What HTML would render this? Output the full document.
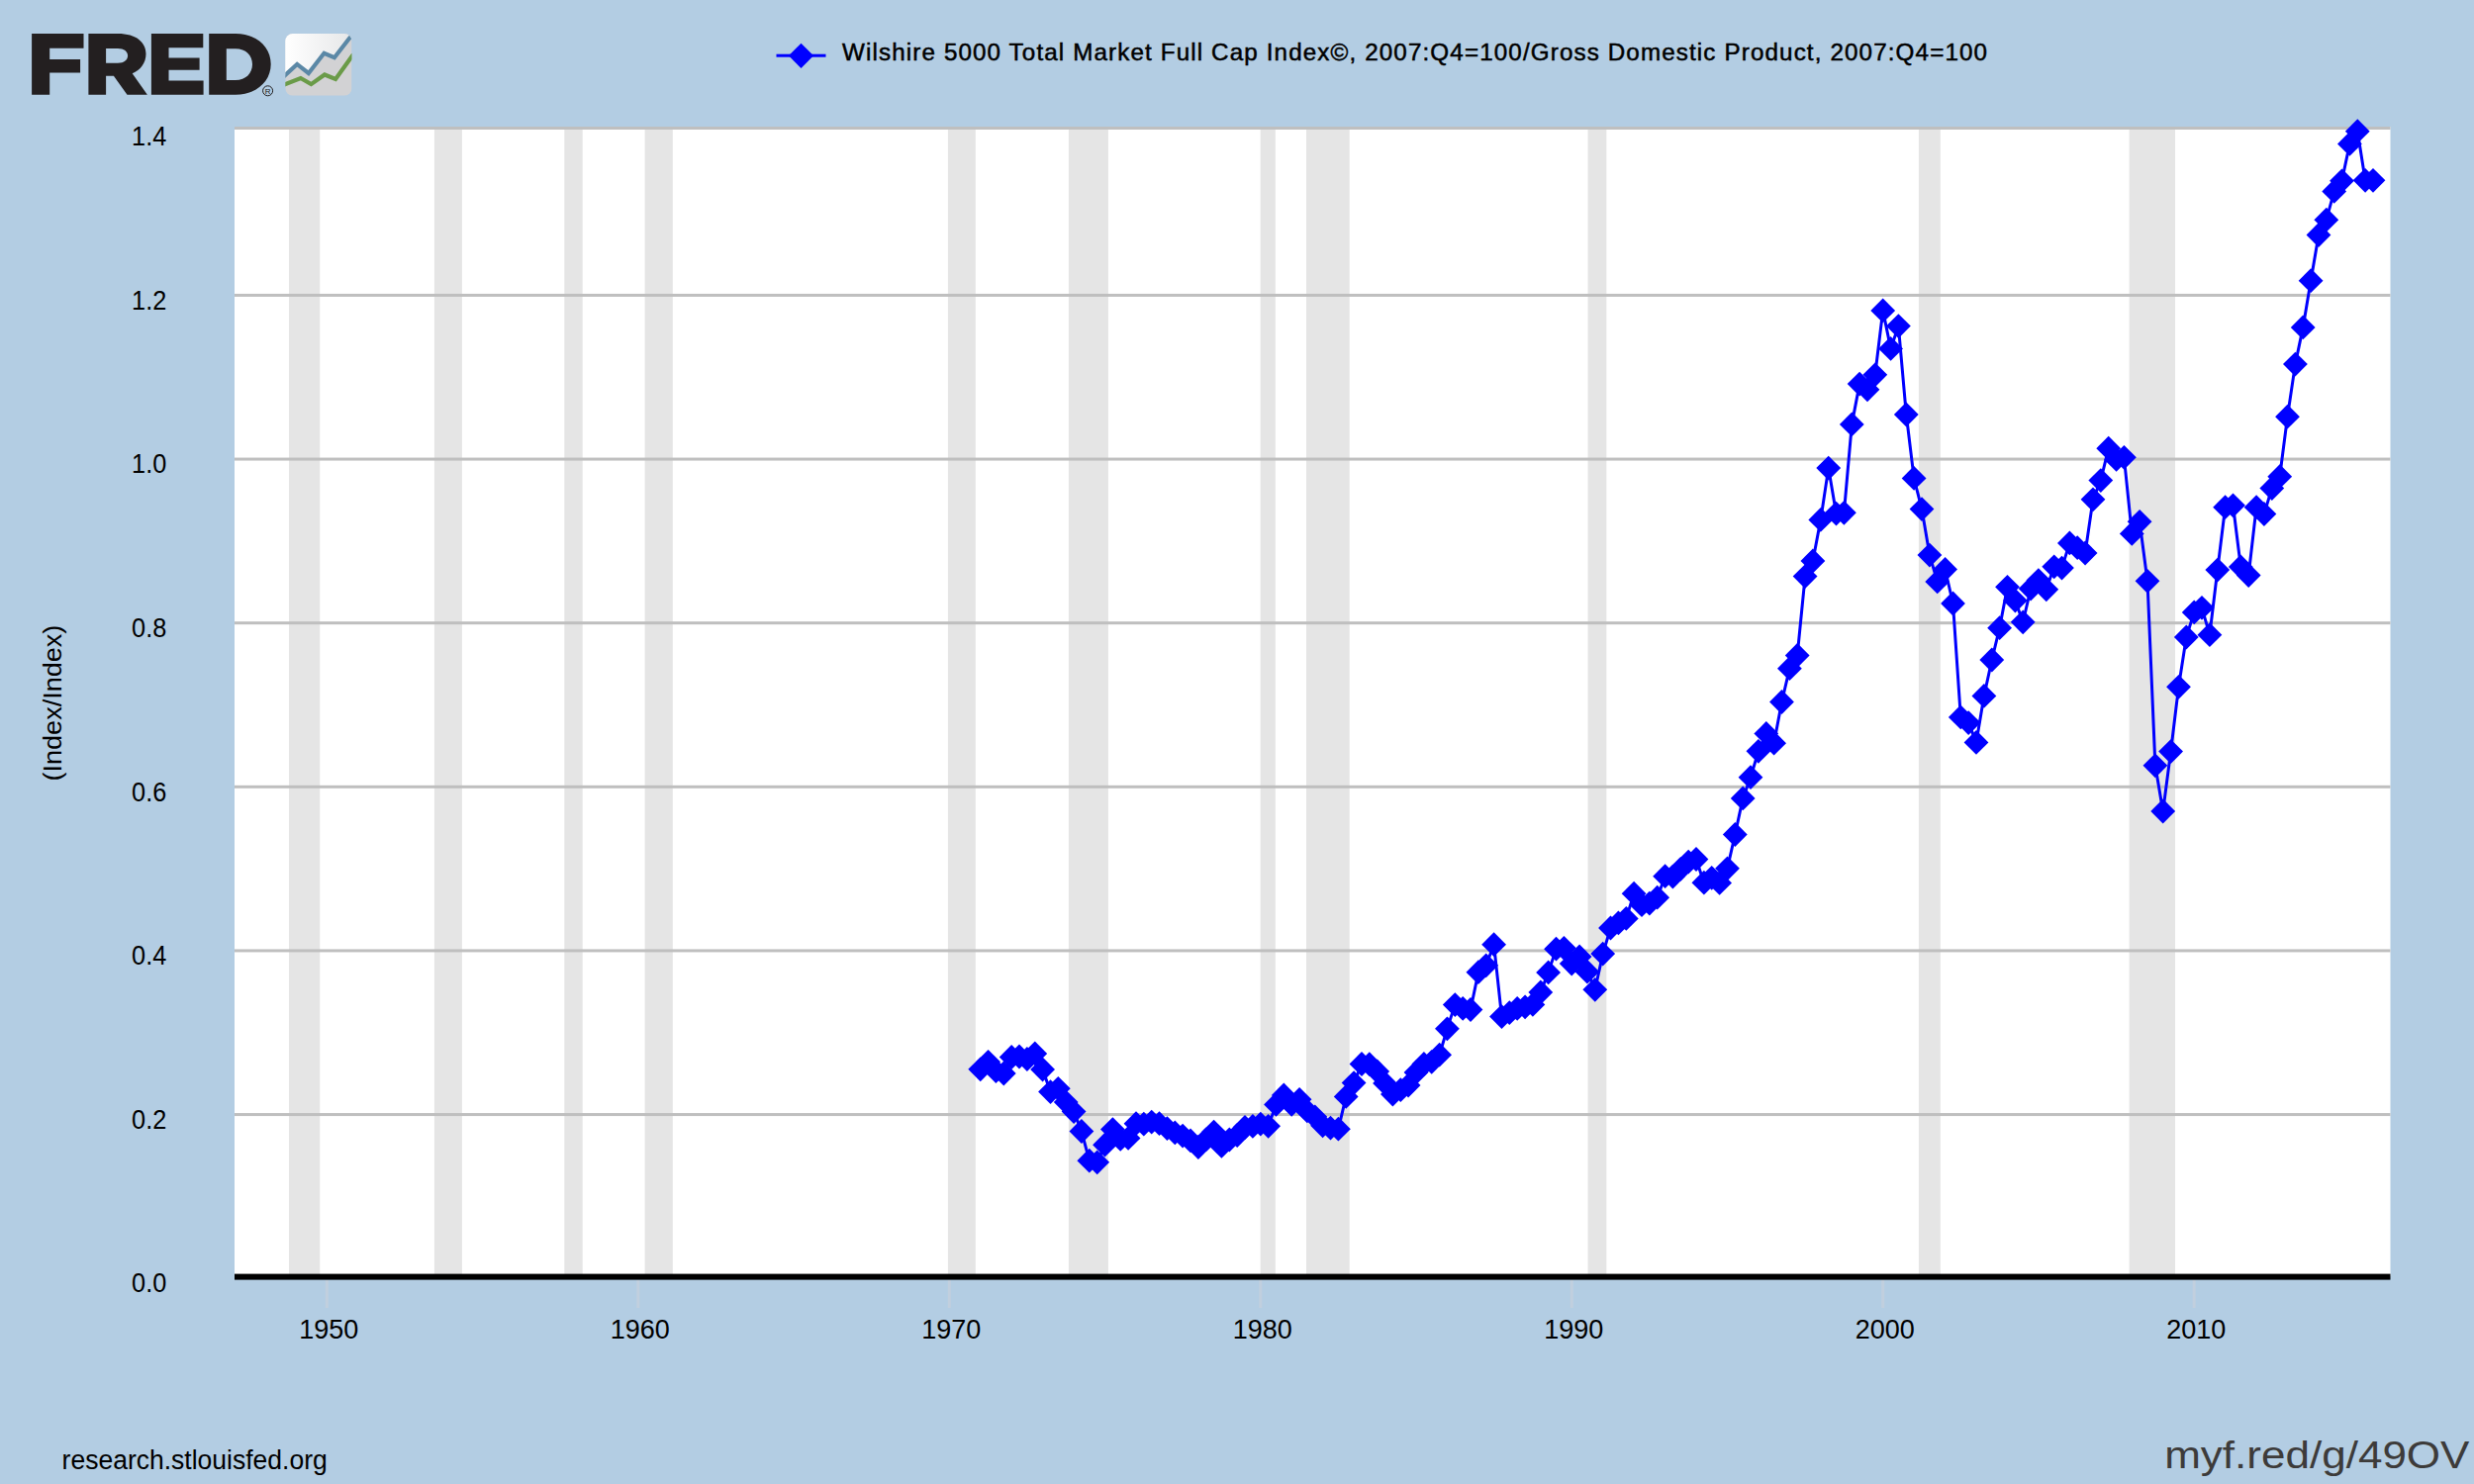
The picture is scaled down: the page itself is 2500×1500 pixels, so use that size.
<!DOCTYPE html>
<html><head><meta charset="utf-8"><title>FRED</title>
<style>
html,body{margin:0;padding:0;background:#b3cde3;width:2500px;height:1500px;overflow:hidden}
svg{display:block}
text{font-family:"Liberation Sans",sans-serif}
</style></head><body>
<svg width="2500" height="1500" viewBox="0 0 2500 1500">
<rect x="0" y="0" width="2500" height="1500" fill="#b3cde3"/>

<rect x="237" y="128" width="2178.5" height="1162" fill="#ffffff"/>
<rect x="292.00" y="131" width="31.25" height="1159" fill="#e5e5e5"/>
<rect x="438.90" y="131" width="28.00" height="1159" fill="#e5e5e5"/>
<rect x="570.30" y="131" width="18.40" height="1159" fill="#e5e5e5"/>
<rect x="651.60" y="131" width="28.20" height="1159" fill="#e5e5e5"/>
<rect x="957.90" y="131" width="27.90" height="1159" fill="#e5e5e5"/>
<rect x="1079.90" y="131" width="40.00" height="1159" fill="#e5e5e5"/>
<rect x="1273.65" y="131" width="15.15" height="1159" fill="#e5e5e5"/>
<rect x="1320.00" y="131" width="43.70" height="1159" fill="#e5e5e5"/>
<rect x="1604.55" y="131" width="18.80" height="1159" fill="#e5e5e5"/>
<rect x="1938.90" y="131" width="21.90" height="1159" fill="#e5e5e5"/>
<rect x="2151.60" y="131" width="46.40" height="1159" fill="#e5e5e5"/>
<rect x="237" y="128.00" width="2178.5" height="3" fill="#bfbfbf"/>
<rect x="237" y="296.94" width="2178.5" height="3" fill="#bfbfbf"/>
<rect x="237" y="462.57" width="2178.5" height="3" fill="#bfbfbf"/>
<rect x="237" y="628.19" width="2178.5" height="3" fill="#bfbfbf"/>
<rect x="237" y="793.81" width="2178.5" height="3" fill="#bfbfbf"/>
<rect x="237" y="959.43" width="2178.5" height="3" fill="#bfbfbf"/>
<rect x="237" y="1125.06" width="2178.5" height="3" fill="#bfbfbf"/>
<rect x="237" y="1287.6" width="2178.5" height="6.0" fill="#000000"/>
<rect x="328.83" y="1294" width="3" height="28" fill="#c1cfde"/>
<rect x="643.30" y="1294" width="3" height="28" fill="#c1cfde"/>
<rect x="957.78" y="1294" width="3" height="28" fill="#c1cfde"/>
<rect x="1272.25" y="1294" width="3" height="28" fill="#c1cfde"/>
<rect x="1586.73" y="1294" width="3" height="28" fill="#c1cfde"/>
<rect x="1901.20" y="1294" width="3" height="28" fill="#c1cfde"/>
<rect x="2215.67" y="1294" width="3" height="28" fill="#c1cfde"/>
<text x="133.1" y="147.0" font-size="27" textLength="35.2" lengthAdjust="spacingAndGlyphs" fill="#000">1.4</text>
<text x="133.1" y="312.6" font-size="27" textLength="35.2" lengthAdjust="spacingAndGlyphs" fill="#000">1.2</text>
<text x="133.1" y="478.2" font-size="27" textLength="35.2" lengthAdjust="spacingAndGlyphs" fill="#000">1.0</text>
<text x="133.1" y="643.8" font-size="27" textLength="35.2" lengthAdjust="spacingAndGlyphs" fill="#000">0.8</text>
<text x="133.1" y="809.5" font-size="27" textLength="35.2" lengthAdjust="spacingAndGlyphs" fill="#000">0.6</text>
<text x="133.1" y="975.1" font-size="27" textLength="35.2" lengthAdjust="spacingAndGlyphs" fill="#000">0.4</text>
<text x="133.1" y="1140.7" font-size="27" textLength="35.2" lengthAdjust="spacingAndGlyphs" fill="#000">0.2</text>
<text x="133.1" y="1306.3" font-size="27" textLength="35.2" lengthAdjust="spacingAndGlyphs" fill="#000">0.0</text>
<text x="332.3" y="1353" font-size="27" text-anchor="middle" fill="#000">1950</text>
<text x="646.8" y="1353" font-size="27" text-anchor="middle" fill="#000">1960</text>
<text x="961.3" y="1353" font-size="27" text-anchor="middle" fill="#000">1970</text>
<text x="1275.8" y="1353" font-size="27" text-anchor="middle" fill="#000">1980</text>
<text x="1590.2" y="1353" font-size="27" text-anchor="middle" fill="#000">1990</text>
<text x="1904.7" y="1353" font-size="27" text-anchor="middle" fill="#000">2000</text>
<text x="2219.2" y="1353" font-size="27" text-anchor="middle" fill="#000">2010</text>
<text transform="translate(62.1,710.6) rotate(-90)" font-size="25.5" text-anchor="middle" textLength="157.8" lengthAdjust="spacingAndGlyphs" fill="#000">(Index/Index)</text>
<rect x="784.5" y="54.7" width="50" height="3" fill="#0000ff"/>
<path d="M809.5 43.7 L822.1 56.3 L809.5 68.9 L796.9 56.3 Z" fill="#0000ff"/>
<text x="851" y="60.9" font-size="24.2" textLength="1157" lengthAdjust="spacing" fill="#000" stroke="#000" stroke-width="0.5">Wilshire 5000 Total Market Full Cap Index©, 2007:Q4=100/Gross Domestic Product, 2007:Q4=100</text>
<text x="62.6" y="1484.6" font-size="27" textLength="268.2" lengthAdjust="spacingAndGlyphs" fill="#000">research.stlouisfed.org</text>
<text x="2187.2" y="1484.3" font-size="38" textLength="308.3" lengthAdjust="spacingAndGlyphs" fill="#3d3b3a">myf.red/g/49OV</text>
<g fill="#231f20">
<path d="M32.1 34 H84.5 V48.8 H50.2 V60.1 H81.1 V73.5 H50.2 V95.8 H32.1 Z"/>
<path d="M89.4 34 H119 C138 34 147.5 43 147.5 54.5 C147.5 63.5 142 71 133.7 74.2 L148.9 95.8 H128.5 L114.9 76.7 H107.1 V95.8 H89.4 Z M107.1 48.9 V63.8 H119 C125.5 63.8 129.1 60.5 129.1 56.3 C129.1 52 125.5 48.9 119 48.9 Z" fill-rule="evenodd"/>
<path d="M152.9 34 H205.3 V48.2 H170.5 V58.4 H201.6 V70.8 H170.5 V81.6 H205.6 V95.7 H152.9 Z"/>
<path d="M211.2 34 H238 C259 34 273.7 47 273.7 64.8 C273.7 82.5 259 95.7 238 95.7 H211.2 Z M228.8 49.3 V81 H238 C248.5 81 255 74 255 65 C255 56 248.5 49.3 238 49.3 Z" fill-rule="evenodd"/>
</g>
<circle cx="270.6" cy="91.8" r="5" fill="none" stroke="#231f20" stroke-width="1"/>
<text x="270.6" y="94.8" font-size="8" text-anchor="middle" fill="#231f20">R</text>

<defs>
<linearGradient id="ig" gradientUnits="userSpaceOnUse" x1="288" y1="0" x2="356" y2="0"><stop offset="0" stop-color="#ffffff"/><stop offset="1" stop-color="#e6e7e8"/></linearGradient>
<clipPath id="ic"><rect x="288.3" y="34" width="67.2" height="62.8" rx="7.6" ry="7.6"/></clipPath>
</defs>
<g clip-path="url(#ic)">
<rect x="288.3" y="33.6" width="67.2" height="63.1" fill="#d2d2d4"/>
<path d="M280 33 H356 V37.9 L337.9 58.3 L327.5 53.8 L311.8 74 L300.2 64.9 L280 84 Z" fill="url(#ig)"/>
<polyline points="286,78 300.2,64.9 311.8,74 327.5,53.8 337.9,58.3 353.4,38.3" fill="none" stroke="#5b88a6" stroke-width="4.2" stroke-linejoin="miter" stroke-linecap="round"/>
<polyline points="286,86 303.8,79 314.4,85.1 328,75.5 339.1,80 357,55" fill="none" stroke="#6a9b48" stroke-width="4.2" stroke-linejoin="miter"/>
</g>

<polyline points="990.7,1080.8 998.6,1073.3 1006.4,1082.6 1014.3,1085.0 1022.2,1068.5 1030.0,1068.0 1037.9,1070.5 1045.8,1064.9 1053.6,1081.0 1061.5,1103.6 1069.3,1100.3 1077.2,1114.1 1085.1,1123.6 1092.9,1143.5 1100.8,1173.2 1108.7,1174.8 1116.5,1157.2 1124.4,1141.6 1132.2,1151.4 1140.1,1150.4 1148.0,1135.7 1155.8,1136.2 1163.7,1134.1 1171.5,1135.7 1179.4,1140.6 1187.3,1144.9 1195.1,1148.1 1203.0,1152.9 1210.9,1159.5 1218.7,1151.9 1226.6,1144.1 1234.4,1158.4 1242.3,1152.0 1250.2,1147.5 1258.0,1139.5 1265.9,1138.4 1273.8,1136.1 1281.6,1138.3 1289.5,1116.4 1297.3,1107.0 1305.2,1116.4 1313.1,1111.3 1320.9,1122.9 1328.8,1128.8 1336.6,1137.8 1344.5,1140.2 1352.4,1141.2 1360.2,1108.4 1368.1,1094.6 1376.0,1075.5 1383.8,1075.7 1391.7,1083.0 1399.5,1094.9 1407.4,1106.0 1415.3,1101.7 1423.1,1097.0 1431.0,1084.0 1438.9,1075.5 1446.7,1073.3 1454.6,1066.2 1462.4,1039.8 1470.3,1015.6 1478.2,1019.4 1486.0,1020.5 1493.9,982.7 1501.7,975.8 1509.6,954.7 1517.5,1027.6 1525.3,1023.7 1533.2,1019.4 1541.1,1017.8 1548.9,1015.4 1556.8,1003.0 1564.6,982.9 1572.5,959.2 1580.4,958.3 1588.2,974.1 1596.1,966.9 1603.9,982.2 1611.8,1000.3 1619.7,964.1 1627.5,938.0 1635.4,932.9 1643.3,928.4 1651.1,903.2 1659.0,914.7 1666.8,913.1 1674.7,907.2 1682.6,885.7 1690.4,886.1 1698.3,878.3 1706.2,871.1 1714.0,868.5 1721.9,892.2 1729.7,887.3 1737.6,892.4 1745.5,877.8 1753.3,843.5 1761.2,806.9 1769.0,785.7 1776.9,759.3 1784.8,741.5 1792.6,751.2 1800.5,709.5 1808.4,675.7 1816.2,662.5 1824.1,582.6 1831.9,567.0 1839.8,525.4 1847.7,473.1 1855.5,519.1 1863.4,518.3 1871.3,428.9 1879.1,388.1 1887.0,393.8 1894.8,378.8 1902.7,313.9 1910.6,352.4 1918.4,329.6 1926.3,419.0 1934.1,483.4 1942.0,514.6 1949.9,561.1 1957.7,587.9 1965.6,575.5 1973.5,610.0 1981.3,724.9 1989.2,730.6 1997.0,750.4 2004.9,703.4 2012.8,667.0 2020.6,634.7 2028.5,593.3 2036.4,607.1 2044.2,628.8 2052.1,595.0 2059.9,586.6 2067.8,595.8 2075.7,572.8 2083.5,574.1 2091.4,548.9 2099.2,553.7 2107.1,559.0 2115.0,504.8 2122.8,485.6 2130.7,453.2 2138.6,464.4 2146.4,462.3 2154.3,539.4 2162.1,527.3 2170.0,587.3 2177.9,773.8 2185.7,820.0 2193.6,759.6 2201.5,694.3 2209.3,644.0 2217.2,618.9 2225.0,614.3 2232.9,641.7 2240.8,576.1 2248.6,512.7 2256.5,510.8 2264.3,573.0 2272.2,581.5 2280.1,512.7 2287.9,519.5 2295.8,493.5 2303.7,481.7 2311.5,421.2 2319.4,368.1 2327.2,330.9 2335.1,283.7 2343.0,237.5 2350.8,222.2 2358.7,193.4 2366.5,182.8 2374.4,145.4 2382.3,132.7 2390.1,182.3 2398.0,182.3" fill="none" stroke="#0000ff" stroke-width="3" stroke-linejoin="round"/>
<g fill="#0000ff">
<path d="M990.7 1068.4l12.4 12.4l-12.4 12.4l-12.4 -12.4z"/>
<path d="M998.6 1060.9l12.4 12.4l-12.4 12.4l-12.4 -12.4z"/>
<path d="M1006.4 1070.2l12.4 12.4l-12.4 12.4l-12.4 -12.4z"/>
<path d="M1014.3 1072.6l12.4 12.4l-12.4 12.4l-12.4 -12.4z"/>
<path d="M1022.2 1056.1l12.4 12.4l-12.4 12.4l-12.4 -12.4z"/>
<path d="M1030.0 1055.6l12.4 12.4l-12.4 12.4l-12.4 -12.4z"/>
<path d="M1037.9 1058.1l12.4 12.4l-12.4 12.4l-12.4 -12.4z"/>
<path d="M1045.8 1052.5l12.4 12.4l-12.4 12.4l-12.4 -12.4z"/>
<path d="M1053.6 1068.6l12.4 12.4l-12.4 12.4l-12.4 -12.4z"/>
<path d="M1061.5 1091.2l12.4 12.4l-12.4 12.4l-12.4 -12.4z"/>
<path d="M1069.3 1087.9l12.4 12.4l-12.4 12.4l-12.4 -12.4z"/>
<path d="M1077.2 1101.7l12.4 12.4l-12.4 12.4l-12.4 -12.4z"/>
<path d="M1085.1 1111.2l12.4 12.4l-12.4 12.4l-12.4 -12.4z"/>
<path d="M1092.9 1131.1l12.4 12.4l-12.4 12.4l-12.4 -12.4z"/>
<path d="M1100.8 1160.8l12.4 12.4l-12.4 12.4l-12.4 -12.4z"/>
<path d="M1108.7 1162.4l12.4 12.4l-12.4 12.4l-12.4 -12.4z"/>
<path d="M1116.5 1144.8l12.4 12.4l-12.4 12.4l-12.4 -12.4z"/>
<path d="M1124.4 1129.2l12.4 12.4l-12.4 12.4l-12.4 -12.4z"/>
<path d="M1132.2 1139.0l12.4 12.4l-12.4 12.4l-12.4 -12.4z"/>
<path d="M1140.1 1138.0l12.4 12.4l-12.4 12.4l-12.4 -12.4z"/>
<path d="M1148.0 1123.3l12.4 12.4l-12.4 12.4l-12.4 -12.4z"/>
<path d="M1155.8 1123.8l12.4 12.4l-12.4 12.4l-12.4 -12.4z"/>
<path d="M1163.7 1121.7l12.4 12.4l-12.4 12.4l-12.4 -12.4z"/>
<path d="M1171.5 1123.3l12.4 12.4l-12.4 12.4l-12.4 -12.4z"/>
<path d="M1179.4 1128.2l12.4 12.4l-12.4 12.4l-12.4 -12.4z"/>
<path d="M1187.3 1132.5l12.4 12.4l-12.4 12.4l-12.4 -12.4z"/>
<path d="M1195.1 1135.7l12.4 12.4l-12.4 12.4l-12.4 -12.4z"/>
<path d="M1203.0 1140.5l12.4 12.4l-12.4 12.4l-12.4 -12.4z"/>
<path d="M1210.9 1147.1l12.4 12.4l-12.4 12.4l-12.4 -12.4z"/>
<path d="M1218.7 1139.5l12.4 12.4l-12.4 12.4l-12.4 -12.4z"/>
<path d="M1226.6 1131.7l12.4 12.4l-12.4 12.4l-12.4 -12.4z"/>
<path d="M1234.4 1146.0l12.4 12.4l-12.4 12.4l-12.4 -12.4z"/>
<path d="M1242.3 1139.6l12.4 12.4l-12.4 12.4l-12.4 -12.4z"/>
<path d="M1250.2 1135.1l12.4 12.4l-12.4 12.4l-12.4 -12.4z"/>
<path d="M1258.0 1127.1l12.4 12.4l-12.4 12.4l-12.4 -12.4z"/>
<path d="M1265.9 1126.0l12.4 12.4l-12.4 12.4l-12.4 -12.4z"/>
<path d="M1273.8 1123.7l12.4 12.4l-12.4 12.4l-12.4 -12.4z"/>
<path d="M1281.6 1125.9l12.4 12.4l-12.4 12.4l-12.4 -12.4z"/>
<path d="M1289.5 1104.0l12.4 12.4l-12.4 12.4l-12.4 -12.4z"/>
<path d="M1297.3 1094.6l12.4 12.4l-12.4 12.4l-12.4 -12.4z"/>
<path d="M1305.2 1104.0l12.4 12.4l-12.4 12.4l-12.4 -12.4z"/>
<path d="M1313.1 1098.9l12.4 12.4l-12.4 12.4l-12.4 -12.4z"/>
<path d="M1320.9 1110.5l12.4 12.4l-12.4 12.4l-12.4 -12.4z"/>
<path d="M1328.8 1116.4l12.4 12.4l-12.4 12.4l-12.4 -12.4z"/>
<path d="M1336.6 1125.4l12.4 12.4l-12.4 12.4l-12.4 -12.4z"/>
<path d="M1344.5 1127.8l12.4 12.4l-12.4 12.4l-12.4 -12.4z"/>
<path d="M1352.4 1128.8l12.4 12.4l-12.4 12.4l-12.4 -12.4z"/>
<path d="M1360.2 1096.0l12.4 12.4l-12.4 12.4l-12.4 -12.4z"/>
<path d="M1368.1 1082.2l12.4 12.4l-12.4 12.4l-12.4 -12.4z"/>
<path d="M1376.0 1063.1l12.4 12.4l-12.4 12.4l-12.4 -12.4z"/>
<path d="M1383.8 1063.3l12.4 12.4l-12.4 12.4l-12.4 -12.4z"/>
<path d="M1391.7 1070.6l12.4 12.4l-12.4 12.4l-12.4 -12.4z"/>
<path d="M1399.5 1082.5l12.4 12.4l-12.4 12.4l-12.4 -12.4z"/>
<path d="M1407.4 1093.6l12.4 12.4l-12.4 12.4l-12.4 -12.4z"/>
<path d="M1415.3 1089.3l12.4 12.4l-12.4 12.4l-12.4 -12.4z"/>
<path d="M1423.1 1084.6l12.4 12.4l-12.4 12.4l-12.4 -12.4z"/>
<path d="M1431.0 1071.6l12.4 12.4l-12.4 12.4l-12.4 -12.4z"/>
<path d="M1438.9 1063.1l12.4 12.4l-12.4 12.4l-12.4 -12.4z"/>
<path d="M1446.7 1060.9l12.4 12.4l-12.4 12.4l-12.4 -12.4z"/>
<path d="M1454.6 1053.8l12.4 12.4l-12.4 12.4l-12.4 -12.4z"/>
<path d="M1462.4 1027.4l12.4 12.4l-12.4 12.4l-12.4 -12.4z"/>
<path d="M1470.3 1003.2l12.4 12.4l-12.4 12.4l-12.4 -12.4z"/>
<path d="M1478.2 1007.0l12.4 12.4l-12.4 12.4l-12.4 -12.4z"/>
<path d="M1486.0 1008.1l12.4 12.4l-12.4 12.4l-12.4 -12.4z"/>
<path d="M1493.9 970.3l12.4 12.4l-12.4 12.4l-12.4 -12.4z"/>
<path d="M1501.7 963.4l12.4 12.4l-12.4 12.4l-12.4 -12.4z"/>
<path d="M1509.6 942.3l12.4 12.4l-12.4 12.4l-12.4 -12.4z"/>
<path d="M1517.5 1015.2l12.4 12.4l-12.4 12.4l-12.4 -12.4z"/>
<path d="M1525.3 1011.3l12.4 12.4l-12.4 12.4l-12.4 -12.4z"/>
<path d="M1533.2 1007.0l12.4 12.4l-12.4 12.4l-12.4 -12.4z"/>
<path d="M1541.1 1005.4l12.4 12.4l-12.4 12.4l-12.4 -12.4z"/>
<path d="M1548.9 1003.0l12.4 12.4l-12.4 12.4l-12.4 -12.4z"/>
<path d="M1556.8 990.6l12.4 12.4l-12.4 12.4l-12.4 -12.4z"/>
<path d="M1564.6 970.5l12.4 12.4l-12.4 12.4l-12.4 -12.4z"/>
<path d="M1572.5 946.8l12.4 12.4l-12.4 12.4l-12.4 -12.4z"/>
<path d="M1580.4 945.9l12.4 12.4l-12.4 12.4l-12.4 -12.4z"/>
<path d="M1588.2 961.7l12.4 12.4l-12.4 12.4l-12.4 -12.4z"/>
<path d="M1596.1 954.5l12.4 12.4l-12.4 12.4l-12.4 -12.4z"/>
<path d="M1603.9 969.8l12.4 12.4l-12.4 12.4l-12.4 -12.4z"/>
<path d="M1611.8 987.9l12.4 12.4l-12.4 12.4l-12.4 -12.4z"/>
<path d="M1619.7 951.7l12.4 12.4l-12.4 12.4l-12.4 -12.4z"/>
<path d="M1627.5 925.6l12.4 12.4l-12.4 12.4l-12.4 -12.4z"/>
<path d="M1635.4 920.5l12.4 12.4l-12.4 12.4l-12.4 -12.4z"/>
<path d="M1643.3 916.0l12.4 12.4l-12.4 12.4l-12.4 -12.4z"/>
<path d="M1651.1 890.8l12.4 12.4l-12.4 12.4l-12.4 -12.4z"/>
<path d="M1659.0 902.3l12.4 12.4l-12.4 12.4l-12.4 -12.4z"/>
<path d="M1666.8 900.7l12.4 12.4l-12.4 12.4l-12.4 -12.4z"/>
<path d="M1674.7 894.8l12.4 12.4l-12.4 12.4l-12.4 -12.4z"/>
<path d="M1682.6 873.3l12.4 12.4l-12.4 12.4l-12.4 -12.4z"/>
<path d="M1690.4 873.7l12.4 12.4l-12.4 12.4l-12.4 -12.4z"/>
<path d="M1698.3 865.9l12.4 12.4l-12.4 12.4l-12.4 -12.4z"/>
<path d="M1706.2 858.7l12.4 12.4l-12.4 12.4l-12.4 -12.4z"/>
<path d="M1714.0 856.1l12.4 12.4l-12.4 12.4l-12.4 -12.4z"/>
<path d="M1721.9 879.8l12.4 12.4l-12.4 12.4l-12.4 -12.4z"/>
<path d="M1729.7 874.9l12.4 12.4l-12.4 12.4l-12.4 -12.4z"/>
<path d="M1737.6 880.0l12.4 12.4l-12.4 12.4l-12.4 -12.4z"/>
<path d="M1745.5 865.4l12.4 12.4l-12.4 12.4l-12.4 -12.4z"/>
<path d="M1753.3 831.1l12.4 12.4l-12.4 12.4l-12.4 -12.4z"/>
<path d="M1761.2 794.5l12.4 12.4l-12.4 12.4l-12.4 -12.4z"/>
<path d="M1769.0 773.3l12.4 12.4l-12.4 12.4l-12.4 -12.4z"/>
<path d="M1776.9 746.9l12.4 12.4l-12.4 12.4l-12.4 -12.4z"/>
<path d="M1784.8 729.1l12.4 12.4l-12.4 12.4l-12.4 -12.4z"/>
<path d="M1792.6 738.8l12.4 12.4l-12.4 12.4l-12.4 -12.4z"/>
<path d="M1800.5 697.1l12.4 12.4l-12.4 12.4l-12.4 -12.4z"/>
<path d="M1808.4 663.3l12.4 12.4l-12.4 12.4l-12.4 -12.4z"/>
<path d="M1816.2 650.1l12.4 12.4l-12.4 12.4l-12.4 -12.4z"/>
<path d="M1824.1 570.2l12.4 12.4l-12.4 12.4l-12.4 -12.4z"/>
<path d="M1831.9 554.6l12.4 12.4l-12.4 12.4l-12.4 -12.4z"/>
<path d="M1839.8 513.0l12.4 12.4l-12.4 12.4l-12.4 -12.4z"/>
<path d="M1847.7 460.7l12.4 12.4l-12.4 12.4l-12.4 -12.4z"/>
<path d="M1855.5 506.7l12.4 12.4l-12.4 12.4l-12.4 -12.4z"/>
<path d="M1863.4 505.9l12.4 12.4l-12.4 12.4l-12.4 -12.4z"/>
<path d="M1871.3 416.5l12.4 12.4l-12.4 12.4l-12.4 -12.4z"/>
<path d="M1879.1 375.7l12.4 12.4l-12.4 12.4l-12.4 -12.4z"/>
<path d="M1887.0 381.4l12.4 12.4l-12.4 12.4l-12.4 -12.4z"/>
<path d="M1894.8 366.4l12.4 12.4l-12.4 12.4l-12.4 -12.4z"/>
<path d="M1902.7 301.5l12.4 12.4l-12.4 12.4l-12.4 -12.4z"/>
<path d="M1910.6 340.0l12.4 12.4l-12.4 12.4l-12.4 -12.4z"/>
<path d="M1918.4 317.2l12.4 12.4l-12.4 12.4l-12.4 -12.4z"/>
<path d="M1926.3 406.6l12.4 12.4l-12.4 12.4l-12.4 -12.4z"/>
<path d="M1934.1 471.0l12.4 12.4l-12.4 12.4l-12.4 -12.4z"/>
<path d="M1942.0 502.2l12.4 12.4l-12.4 12.4l-12.4 -12.4z"/>
<path d="M1949.9 548.7l12.4 12.4l-12.4 12.4l-12.4 -12.4z"/>
<path d="M1957.7 575.5l12.4 12.4l-12.4 12.4l-12.4 -12.4z"/>
<path d="M1965.6 563.1l12.4 12.4l-12.4 12.4l-12.4 -12.4z"/>
<path d="M1973.5 597.6l12.4 12.4l-12.4 12.4l-12.4 -12.4z"/>
<path d="M1981.3 712.5l12.4 12.4l-12.4 12.4l-12.4 -12.4z"/>
<path d="M1989.2 718.2l12.4 12.4l-12.4 12.4l-12.4 -12.4z"/>
<path d="M1997.0 738.0l12.4 12.4l-12.4 12.4l-12.4 -12.4z"/>
<path d="M2004.9 691.0l12.4 12.4l-12.4 12.4l-12.4 -12.4z"/>
<path d="M2012.8 654.6l12.4 12.4l-12.4 12.4l-12.4 -12.4z"/>
<path d="M2020.6 622.3l12.4 12.4l-12.4 12.4l-12.4 -12.4z"/>
<path d="M2028.5 580.9l12.4 12.4l-12.4 12.4l-12.4 -12.4z"/>
<path d="M2036.4 594.7l12.4 12.4l-12.4 12.4l-12.4 -12.4z"/>
<path d="M2044.2 616.4l12.4 12.4l-12.4 12.4l-12.4 -12.4z"/>
<path d="M2052.1 582.6l12.4 12.4l-12.4 12.4l-12.4 -12.4z"/>
<path d="M2059.9 574.2l12.4 12.4l-12.4 12.4l-12.4 -12.4z"/>
<path d="M2067.8 583.4l12.4 12.4l-12.4 12.4l-12.4 -12.4z"/>
<path d="M2075.7 560.4l12.4 12.4l-12.4 12.4l-12.4 -12.4z"/>
<path d="M2083.5 561.7l12.4 12.4l-12.4 12.4l-12.4 -12.4z"/>
<path d="M2091.4 536.5l12.4 12.4l-12.4 12.4l-12.4 -12.4z"/>
<path d="M2099.2 541.3l12.4 12.4l-12.4 12.4l-12.4 -12.4z"/>
<path d="M2107.1 546.6l12.4 12.4l-12.4 12.4l-12.4 -12.4z"/>
<path d="M2115.0 492.4l12.4 12.4l-12.4 12.4l-12.4 -12.4z"/>
<path d="M2122.8 473.2l12.4 12.4l-12.4 12.4l-12.4 -12.4z"/>
<path d="M2130.7 440.8l12.4 12.4l-12.4 12.4l-12.4 -12.4z"/>
<path d="M2138.6 452.0l12.4 12.4l-12.4 12.4l-12.4 -12.4z"/>
<path d="M2146.4 449.9l12.4 12.4l-12.4 12.4l-12.4 -12.4z"/>
<path d="M2154.3 527.0l12.4 12.4l-12.4 12.4l-12.4 -12.4z"/>
<path d="M2162.1 514.9l12.4 12.4l-12.4 12.4l-12.4 -12.4z"/>
<path d="M2170.0 574.9l12.4 12.4l-12.4 12.4l-12.4 -12.4z"/>
<path d="M2177.9 761.4l12.4 12.4l-12.4 12.4l-12.4 -12.4z"/>
<path d="M2185.7 807.6l12.4 12.4l-12.4 12.4l-12.4 -12.4z"/>
<path d="M2193.6 747.2l12.4 12.4l-12.4 12.4l-12.4 -12.4z"/>
<path d="M2201.5 681.9l12.4 12.4l-12.4 12.4l-12.4 -12.4z"/>
<path d="M2209.3 631.6l12.4 12.4l-12.4 12.4l-12.4 -12.4z"/>
<path d="M2217.2 606.5l12.4 12.4l-12.4 12.4l-12.4 -12.4z"/>
<path d="M2225.0 601.9l12.4 12.4l-12.4 12.4l-12.4 -12.4z"/>
<path d="M2232.9 629.3l12.4 12.4l-12.4 12.4l-12.4 -12.4z"/>
<path d="M2240.8 563.7l12.4 12.4l-12.4 12.4l-12.4 -12.4z"/>
<path d="M2248.6 500.3l12.4 12.4l-12.4 12.4l-12.4 -12.4z"/>
<path d="M2256.5 498.4l12.4 12.4l-12.4 12.4l-12.4 -12.4z"/>
<path d="M2264.3 560.6l12.4 12.4l-12.4 12.4l-12.4 -12.4z"/>
<path d="M2272.2 569.1l12.4 12.4l-12.4 12.4l-12.4 -12.4z"/>
<path d="M2280.1 500.3l12.4 12.4l-12.4 12.4l-12.4 -12.4z"/>
<path d="M2287.9 507.1l12.4 12.4l-12.4 12.4l-12.4 -12.4z"/>
<path d="M2295.8 481.1l12.4 12.4l-12.4 12.4l-12.4 -12.4z"/>
<path d="M2303.7 469.3l12.4 12.4l-12.4 12.4l-12.4 -12.4z"/>
<path d="M2311.5 408.8l12.4 12.4l-12.4 12.4l-12.4 -12.4z"/>
<path d="M2319.4 355.7l12.4 12.4l-12.4 12.4l-12.4 -12.4z"/>
<path d="M2327.2 318.5l12.4 12.4l-12.4 12.4l-12.4 -12.4z"/>
<path d="M2335.1 271.3l12.4 12.4l-12.4 12.4l-12.4 -12.4z"/>
<path d="M2343.0 225.1l12.4 12.4l-12.4 12.4l-12.4 -12.4z"/>
<path d="M2350.8 209.8l12.4 12.4l-12.4 12.4l-12.4 -12.4z"/>
<path d="M2358.7 181.0l12.4 12.4l-12.4 12.4l-12.4 -12.4z"/>
<path d="M2366.5 170.4l12.4 12.4l-12.4 12.4l-12.4 -12.4z"/>
<path d="M2374.4 133.0l12.4 12.4l-12.4 12.4l-12.4 -12.4z"/>
<path d="M2382.3 120.3l12.4 12.4l-12.4 12.4l-12.4 -12.4z"/>
<path d="M2390.1 169.9l12.4 12.4l-12.4 12.4l-12.4 -12.4z"/>
<path d="M2398.0 169.9l12.4 12.4l-12.4 12.4l-12.4 -12.4z"/>
</g>
</svg></body></html>
